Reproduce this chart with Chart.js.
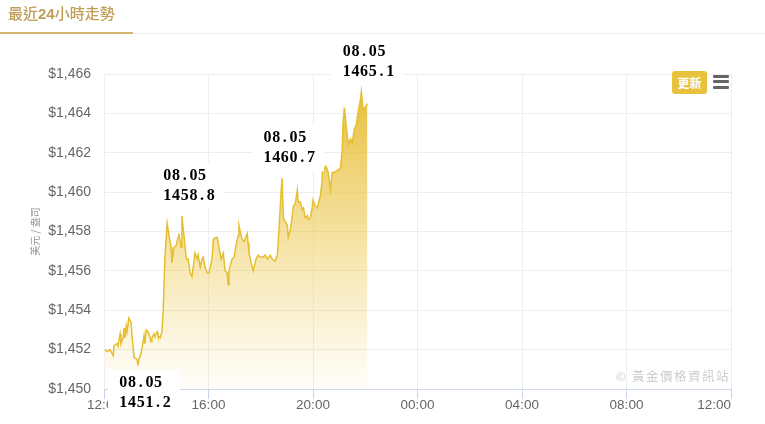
<!DOCTYPE html>
<html>
<head>
<meta charset="utf-8">
<script src="https://cdn.jsdelivr.net/npm/chart.js@4.4.1/dist/chart.umd.min.js"></script>
<style>
  body { margin: 0; background: #fff; font-family: "Noto Sans CJK TC", "Liberation Sans", sans-serif; }
  #wrap { position: relative; width: 765px; height: 424px; overflow: hidden; }
  #tab { position: absolute; left: 8px; top: 2px; font-size: 15px; color: #bf9f58; font-weight: 500; }
  #tab b { font-family: "Liberation Sans", sans-serif; font-weight: bold; }
  #tabline { position: absolute; left: 0; top: 32px; width: 133px; height: 2px; background: #d4b470; }
  #rule { position: absolute; left: 133px; top: 33px; width: 632px; height: 1px; background: #eeeeee; }
  #box { position: absolute; left: 0; top: 0; width: 765px; height: 424px; }
  #refresh { position: absolute; left: 672px; top: 71px; width: 35px; height: 23px; background: #e8c23c;
    border-radius: 3px; color: #fff; font-size: 12px; font-weight: bold; text-align: center; line-height: 23px; }
  .bar { position: absolute; left: 713px; width: 16px; height: 3px; background: #666; border-radius: 1px; }
  #credit { position: absolute; right: 35px; top: 366px; font-size: 12.5px; color: #cccccc; letter-spacing: 1.5px; }
</style>
</head>
<body>
<div id="wrap">
  <div id="box"><canvas id="goldChart"></canvas></div>
  <div id="tab">最近<b>24</b>小時走勢</div>
  <div id="tabline"></div>
  <div id="rule"></div>
  <div id="refresh">更新</div>
  <div class="bar" style="top:75px"></div>
  <div class="bar" style="top:80px"></div>
  <div class="bar" style="top:86px"></div>
  <div id="credit">© 黃金價格資訊站</div>
</div>
<script>
// price samples (time of day, USD / oz)
const times = [
  "12:02", "12:07", "12:14", "12:21", "12:23", "12:30", "12:32", "12:37", "12:39", "12:44",
  "12:46", "12:48", "12:51", "12:53", "12:57", "13:02", "13:04", "13:07", "13:09", "13:11",
  "13:16", "13:18", "13:20", "13:25", "13:30", "13:32", "13:34", "13:37", "13:41", "13:43",
  "13:48", "13:50", "13:55", "13:57", "14:02", "14:04", "14:09", "14:13", "14:16", "14:20",
  "14:25", "14:30", "14:34", "14:36", "14:41", "14:46", "14:50", "14:52", "14:57", "14:59",
  "15:04", "15:09", "15:13", "15:18", "15:22", "15:25", "15:29", "15:34", "15:36", "15:41",
  "15:45", "15:48", "15:52", "15:57", "16:01", "16:08", "16:11", "16:17", "16:20", "16:24",
  "16:29", "16:34", "16:38", "16:43", "16:45", "16:47", "16:54", "16:59", "17:03", "17:08",
  "17:10", "17:17", "17:22", "17:29", "17:31", "17:33", "17:38", "17:43", "17:49", "17:54",
  "17:59", "18:06", "18:10", "18:15", "18:22", "18:26", "18:33", "18:38", "18:40", "18:47",
  "18:49", "18:52", "18:56", "19:01", "19:03", "19:08", "19:12", "19:15", "19:19", "19:24",
  "19:26", "19:31", "19:35", "19:38", "19:42", "19:47", "19:49", "19:54", "19:58", "20:00",
  "20:05", "20:10", "20:12", "20:17", "20:21", "20:23", "20:26", "20:30", "20:35", "20:40",
  "20:44", "20:49", "20:56", "21:03", "21:07", "21:09", "21:12", "21:16", "21:21", "21:26",
  "21:30", "21:35", "21:39", "21:44", "21:49", "21:51", "21:55", "22:00", "22:05"
];
const prices = [
  1452.0, 1451.9, 1452.0, 1451.7, 1452.2, 1452.3, 1452.2, 1452.8, 1452.3, 1452.6,
  1453.1, 1452.6, 1453.2, 1452.9, 1453.6, 1453.4, 1452.8, 1452.1, 1451.6, 1451.6,
  1451.5, 1451.2, 1451.5, 1451.8, 1452.4, 1452.7, 1452.3, 1453.0, 1452.9, 1452.8,
  1452.4, 1452.6, 1452.8, 1452.7, 1452.9, 1452.7, 1452.6, 1452.9, 1454.0, 1456.7,
  1458.4, 1457.7, 1457.2, 1456.4, 1457.2, 1457.3, 1457.7, 1457.9, 1457.2, 1458.8,
  1457.7, 1456.6, 1456.6, 1455.9, 1455.7, 1456.2, 1456.9, 1456.6, 1456.8, 1456.2,
  1456.6, 1456.7, 1456.2, 1455.9, 1455.9, 1456.6, 1457.6, 1457.7, 1457.7, 1457.2,
  1456.6, 1456.9, 1456.0, 1455.9, 1455.3, 1456.0, 1456.6, 1456.7, 1457.3, 1457.8,
  1458.3, 1457.6, 1457.5, 1457.9, 1457.4, 1456.9, 1456.4, 1456.0, 1456.6, 1456.8,
  1456.7, 1456.7, 1456.8, 1456.6, 1456.8, 1456.6, 1456.5, 1456.8, 1457.4, 1460.1,
  1460.7, 1458.7, 1458.5, 1458.3, 1457.7, 1458.1, 1458.7, 1459.3, 1459.4, 1460.1,
  1459.5, 1459.5, 1459.1, 1459.2, 1458.7, 1458.8, 1458.6, 1458.7, 1459.2, 1459.6,
  1459.3, 1459.2, 1459.4, 1459.8, 1460.6, 1461.5, 1461.1, 1461.3, 1461.0, 1460.1,
  1461.0, 1461.0, 1461.1, 1461.2, 1462.1, 1463.5, 1464.3, 1463.4, 1462.4, 1462.7,
  1462.5, 1463.2, 1463.4, 1464.1, 1464.7, 1465.1, 1464.2, 1464.3, 1464.5
];

// x axis labels (every 4 hours starting at 12:00)
const xTickLabels = ["12:00", "16:00", "20:00", "00:00", "04:00", "08:00", "12:00"];
const yTicks = [1450, 1452, 1454, 1456, 1458, 1460, 1462, 1464, 1466];

// points that get a date / price label
const dateLabel = "08.05";
const markTimes = ["13:18", "14:59", "18:49", "21:51"];

// function:: "HH:MM" -> hours after 12:00
function toHours(str) {
  const [h, m] = str.split(":").map(Number);
  return ((h - 12 + 24) % 24) + m / 60;
}

const points = times.map((t, i) => ({ x: toHours(t), y: prices[i] }));
const minPrice = Math.min(...prices);

// plugin:: x labels + the price callouts
const overlayPlugin = {
  id: "overlay",
  afterDraw(chart) {
    const c = chart.ctx;
    const xs = chart.scales.x;
    const ys = chart.scales.y;

    // x labels, last one pulled inside
    c.save();
    c.font = "13.5px 'Liberation Sans', Arial, sans-serif";
    c.fillStyle = "#666";
    c.textBaseline = "middle";
    xs.ticks.forEach((tick, i) => {
      const px = xs.getPixelForValue(tick.value);
      c.textAlign = i === xs.ticks.length - 1 ? "right" : "center";
      c.fillText(xTickLabels[i], px, xs.top + 16);
    });
    c.restore();

    // callouts
    c.save();
    c.font = "bold 16px 'Liberation Serif', 'DejaVu Serif', serif";
    c.textBaseline = "middle";
    c.textAlign = "center";
    const cell = 8.7;
    markTimes.forEach((t) => {
      const idx = times.indexOf(t);
      if (idx < 0) return;
      const px = xs.getPixelForValue(points[idx].x);
      const py = ys.getPixelForValue(points[idx].y);
      const below = prices[idx] === minPrice;
      const line1 = below ? py + 17 : py - 40;
      const textLeft = px - 19;
      const boxLeft = textLeft - 11;

      c.fillStyle = "#fff";
      c.fillRect(boxLeft, line1 - 13, 72, 46);

      c.fillStyle = "#000";
      [dateLabel, prices[idx].toFixed(1)].forEach((txt, row) => {
        [...txt].forEach((ch, k) => {
          c.fillText(ch, textLeft + cell * k + cell / 2, line1 + row * 20);
        });
      });
    });
    c.restore();
  },
};

const ctx = document.getElementById("goldChart");

new Chart(ctx, {
  type: "line",
  data: {
    datasets: [
      {
        data: points,
        borderColor: "#e6bf30",
        borderWidth: 1.5,
        pointRadius: 0,
        tension: 0,
        fill: "start",
        backgroundColor: (context) => {
          const { chart } = context;
          const area = chart.chartArea;
          if (!area) return "rgba(232,193,58,0.5)";
          const g = chart.ctx.createLinearGradient(0, area.top, 0, area.bottom);
          g.addColorStop(0, "rgba(230,188,48,1)");
          g.addColorStop(1, "rgba(240,205,90,0.03)");
          return g;
        },
      },
    ],
  },
  options: {
    responsive: true,
    maintainAspectRatio: false,
    animation: false,
    layout: { padding: { top: 74, right: 34, bottom: 0, left: 0 } },
    plugins: {
      legend: { display: false },
      tooltip: { enabled: false },
    },
    scales: {
      x: {
        type: "linear",
        min: 0,
        max: 24,
        ticks: { display: false, stepSize: 4 },
        grid: { color: "#eeeeee", tickColor: "#ccd6eb", tickLength: 10 },
        border: { color: "#ccd6eb", width: 1 },
        afterFit(scale) {
          scale.height = 35;
        },
      },
      y: {
        min: yTicks[0],
        max: yTicks[yTicks.length - 1],
        afterBuildTicks(scale) {
          scale.ticks = yTicks.map((v) => ({ value: v }));
        },
        ticks: {
          color: "#666",
          padding: 13,
          font: { family: "'Liberation Sans', Arial, sans-serif", size: 14 },
          callback: (v) => "$" + v.toLocaleString("en-US"),
        },
        grid: { color: "#eeeeee", drawTicks: false },
        border: { display: false },
        title: {
          display: true,
          text: "美元 / 盎司",
          color: "#999",
          font: { family: "'Noto Sans CJK TC', sans-serif", size: 10 },
          padding: { top: 29, bottom: 0 },
        },
        afterFit(scale) {
          scale.width = 104;
        },
      },
    },
  },
  plugins: [overlayPlugin],
});
</script>
</body>
</html>
